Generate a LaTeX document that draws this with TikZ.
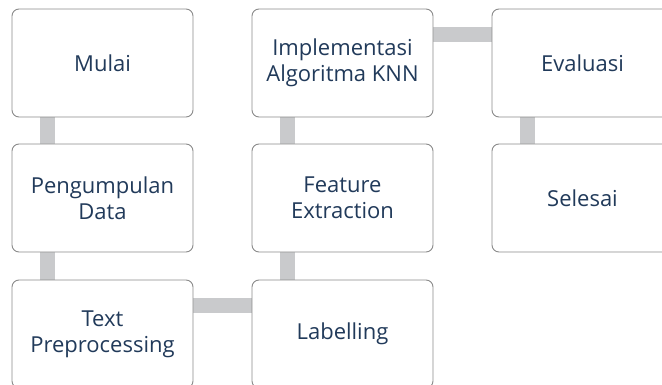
\documentclass[tikz,border=0pt]{standalone}
\usepackage{fontspec}
\setmainfont{Open Sans}
\usetikzlibrary{backgrounds}
\definecolor{boxline}{HTML}{8A8A8A}
\definecolor{linkgray}{HTML}{C9CACC}
\definecolor{txtnavy}{HTML}{213A5A}
\tikzset{
  box/.style={draw=boxline, line width=0.9pt, fill=white, rounded corners=7pt,
    minimum width=181pt, minimum height=108pt, align=center, text=txtnavy,
    font=\fontsize{22}{26}\selectfont},
  link/.style={draw=linkgray, line width=15pt}
}
\begin{document}
\begin{tikzpicture}[x=1pt,y=-1pt]
\useasboundingbox (0,0) rectangle (662,385);
\node[box] (mulai) at (102.5,63) {Mulai};
\node[box] (data) at (102.5,198) {Pengumpulan\\Data};
\node[box] (prep) at (102.5,334) {Text\\Preprocessing};
\node[box] (label) at (342.5,334) {Labelling};
\node[box] (fitur) at (342.5,198) {Feature\\Extraction};
\node[box] (knn) at (342.5,63) {Implementasi\\Algoritma KNN};
\node[box] (eval) at (582.5,63) {Evaluasi};
\node[box] (selesai) at (582.5,198) {Selesai};
% penghubung
\begin{pgfonlayer}{background}
\draw[link] ([xshift=36pt]mulai.south west) -- ([xshift=36pt]data.north west);
\draw[link] ([xshift=36pt]data.south west) -- ([xshift=36pt]prep.north west);
\draw[link] ([yshift=-26pt]prep.north east) -- ([yshift=-26pt]label.north west);
\draw[link] ([xshift=36pt]label.north west) -- ([xshift=36pt]fitur.south west);
\draw[link] ([xshift=36pt]fitur.north west) -- ([xshift=36pt]knn.south west);
\draw[link] ([yshift=-26pt]knn.north east) -- ([yshift=-26pt]eval.north west);
\draw[link] ([xshift=36pt]eval.south west) -- ([xshift=36pt]selesai.north west);
\end{pgfonlayer}
\end{tikzpicture}
\end{document}
